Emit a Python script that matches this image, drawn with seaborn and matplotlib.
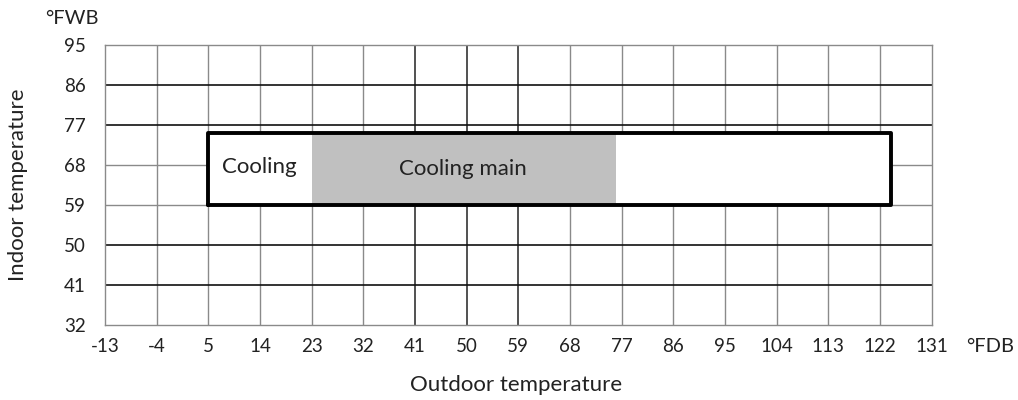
import matplotlib
matplotlib.use("Agg")
import matplotlib.pyplot as plt
import seaborn as sns
import pandas as pd

# Operating range (°F)
x_ticks = [-13, -4, 5, 14, 23, 32, 41, 50, 59, 68, 77, 86, 95, 104, 113, 122, 131]
y_ticks = [32, 41, 50, 59, 68, 77, 86, 95]

cooling_x = [5, 124]      # outdoor dry-bulb range
cooling_y = [59, 75.2]    # indoor wet-bulb range
main_x = [23, 76]         # main cooling band

sns.set_theme(style="white")
plt.rcParams["font.family"] = ["Lato", "DejaVu Sans"]

fig = plt.figure(figsize=(10.18, 4.0), dpi=100)
ax = fig.add_axes([0.1031, 0.1875, 0.8121, 0.70])

ax.set_xlim(x_ticks[0], x_ticks[-1])
ax.set_ylim(y_ticks[0], y_ticks[-1])
ax.set_xticks(x_ticks)
ax.set_yticks(y_ticks)
ax.set_xticklabels([str(v) for v in x_ticks], fontsize=13.5, color="#222222")
ax.set_yticklabels([str(v) for v in y_ticks], fontsize=13.5, color="#222222")
ax.tick_params(axis="x", length=0, pad=9)
ax.tick_params(axis="y", length=0, pad=14)

# grid
dark_h = {41, 50, 77, 86}
dark_v = {41, 50, 59}
for v in x_ticks[1:-1]:
    ax.axvline(v, color="#222222" if v in dark_v else "#8a8a8a",
               lw=1.1 if v in dark_v else 1.0, zorder=1)
for v in y_ticks[1:-1]:
    ax.axhline(v, color="#111111" if v in dark_h else "#8a8a8a",
               lw=1.2 if v in dark_h else 1.0, zorder=1)
for s in ax.spines.values():
    s.set_color("#8a8a8a")
    s.set_linewidth(1.0)

# cooling region
ax.fill_between(cooling_x, cooling_y[0], cooling_y[1], color="white", zorder=2)
ax.fill_between(main_x, cooling_y[0], cooling_y[1], color="#c0c0c0", lw=0, zorder=3)
outline = pd.DataFrame({
    "x": [cooling_x[0], cooling_x[1], cooling_x[1], cooling_x[0], cooling_x[0]],
    "y": [cooling_y[0], cooling_y[0], cooling_y[1], cooling_y[1], cooling_y[0]],
})
sns.lineplot(data=outline, x="x", y="y", sort=False, estimator=None,
             color="black", lw=2.8, ax=ax, zorder=4)
ax.set_xlabel("")
ax.set_ylabel("")

ax.text(13.8, 67.5, "Cooling", ha="center", va="center", fontsize=16,
        color="#222222", zorder=5)
ax.text(49.4, 67.2, "Cooling main", ha="center", va="center", fontsize=16,
        color="#222222", zorder=5)

fig.text(45 / 1018, 1 - 18 / 400, "°FWB", ha="left", va="center",
         fontsize=14.5, color="#222222")
fig.text(966 / 1018, 1 - 347 / 400, "°FDB", ha="left", va="center",
         fontsize=14.5, color="#222222")
fig.text(18 / 1018, 1 - 185 / 400, "Indoor temperature", ha="center", va="center",
         rotation=90, fontsize=16, color="#222222")
fig.text(516 / 1018, 1 - 385 / 400, "Outdoor temperature", ha="center", va="center",
         fontsize=16, color="#222222")

fig.savefig("out.png", dpi=100)
